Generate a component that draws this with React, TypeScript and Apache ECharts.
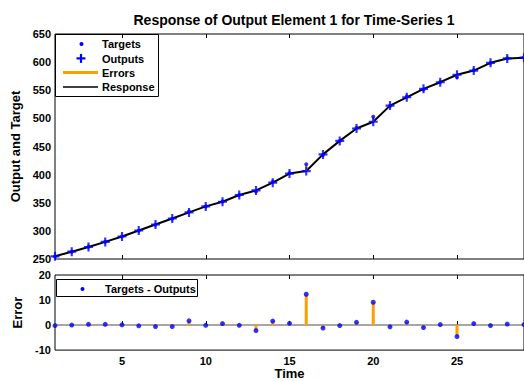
import React, { useEffect, useRef } from 'react';
import * as echarts from 'echarts';

const time = [1, 2, 3, 4, 5, 6, 7, 8, 9, 10, 11, 12, 13, 14, 15, 16, 17, 18, 19, 20, 21, 22, 23, 24, 25, 26, 27, 28, 29];
const outputs = [254.8, 263, 271.4, 280.4, 290, 300.7, 311.4, 322, 332.8, 343.5, 351.8, 363.8, 372, 385.7, 401.8, 406.3, 436, 460, 482, 494, 522.7, 537.5, 552.5, 564.3, 577.5, 585, 598.8, 606.6, 608];
const errors = [-0.2, 0, 0.3, 0.3, 0.1, -0.3, -0.6, -0.6, 1.7, -0.1, 0.6, -0.1, -2.2, 1.6, 0.7, 12.3, -1.2, -0.2, 1.1, 9.1, -0.7, 1.2, -1.0, 0.2, -4.6, 0.6, -0.2, 0.4, 0.2];
const xTickLabels = [5, 10, 15, 20, 25];
const outputAxis = [250, 650, 50];
const errorAxis = [-10, 20, 10];

const BLUE = '#0000ff';
const ORANGE = '#ff9e00';
const FONT = '"Liberation Sans", Arial, Helvetica, sans-serif';
const PLUS = 'path://M3.8,0H6.2V3.8H10V6.2H6.2V10H3.8V6.2H0V3.8H3.8Z';

export default function App() {
  const ref = useRef<HTMLDivElement>(null);
  useEffect(() => {
    document.body.style.margin = '0';
    const chart = echarts.init(ref.current!, null, { renderer: 'svg' });
    const targets = outputs.map((o, i) => +(o + errors[i]).toFixed(2));
    const gridLeft = 55;
    const gridWidth = 478;
    const xBase = {
      type: 'value' as const,
      min: 1,
      max: 29,
      splitLine: { show: false },
      axisLine: { show: false },
    };
    const tickInside = {
      show: true,
      inside: true,
      length: 4,
      customValues: xTickLabels,
      lineStyle: { color: '#000', width: 1 },
    };
    const labelStyle = { color: '#000', fontFamily: FONT, fontWeight: 'bold' as const, fontSize: 11 };
    const nameStyle = { color: '#000', fontFamily: FONT, fontWeight: 'bold' as const, fontSize: 13 };
    const option: any = {
      animation: false,
      backgroundColor: '#fff',
      title: {
        text: 'Response of Output Element 1 for Time-Series 1',
        left: 294,
        top: 13,
        textAlign: 'center',
        padding: 0,
        textStyle: { color: '#000', fontFamily: FONT, fontWeight: 'bold', fontSize: 14 },
      },
      grid: [
        { left: gridLeft, top: 34, width: gridWidth, height: 225, show: true, borderColor: '#000', borderWidth: 1, backgroundColor: '#fff' },
        { left: gridLeft, top: 275, width: gridWidth, height: 81, show: true, borderColor: '#000', borderWidth: 1, backgroundColor: '#fff' },
      ],
      xAxis: [
        { ...xBase, gridIndex: 0, position: 'bottom', axisTick: tickInside, axisLabel: { show: false } },
        { ...xBase, gridIndex: 0, position: 'top', axisTick: tickInside, axisLabel: { show: false } },
        {
          ...xBase, gridIndex: 1, position: 'bottom', axisTick: tickInside,
          axisLabel: { ...labelStyle, margin: 5, customValues: xTickLabels },
          name: 'Time', nameLocation: 'middle', nameGap: 14,
          nameTextStyle: nameStyle,
        },
        { ...xBase, gridIndex: 1, position: 'top', axisTick: tickInside, axisLabel: { show: false } },
      ],
      yAxis: [
        {
          type: 'value', gridIndex: 0, min: outputAxis[0], max: outputAxis[1], interval: outputAxis[2],
          splitLine: { show: false }, axisLine: { show: false }, axisTick: { show: false },
          axisLabel: { ...labelStyle, margin: 4 },
          name: 'Output and Target', nameLocation: 'middle', nameGap: 30,
          nameTextStyle: nameStyle,
        },
        {
          type: 'value', gridIndex: 1, min: errorAxis[0], max: errorAxis[1], interval: errorAxis[2],
          splitLine: { show: false }, axisLine: { show: false }, axisTick: { show: false },
          axisLabel: { ...labelStyle, margin: 4 },
          name: 'Error', nameLocation: 'middle', nameGap: 30,
          nameTextStyle: nameStyle,
        },
      ],
      series: [
        {
          name: 'Response', type: 'line', xAxisIndex: 0, yAxisIndex: 0,
          data: time.map((t, i) => [t, outputs[i]]),
          symbol: 'none', lineStyle: { color: '#000', width: 2 }, z: 2,
        },
        {
          name: 'Errors', type: 'custom', xAxisIndex: 0, yAxisIndex: 0,
          data: time.map((t, i) => [t, outputs[i], targets[i]]),
          encode: { x: 0, y: [1, 2] },
          renderItem: (params: any, api: any) => {
            const p0 = api.coord([api.value(0), api.value(1)]);
            const p1 = api.coord([api.value(0), api.value(2)]);
            return {
              type: 'line',
              shape: { x1: p0[0], y1: p0[1], x2: p1[0], y2: p1[1] },
              style: { stroke: ORANGE, lineWidth: 2 },
            };
          },
          z: 3,
        },
        {
          name: 'Targets', type: 'scatter', xAxisIndex: 0, yAxisIndex: 0,
          data: time.map((t, i) => [t, targets[i]]),
          symbol: 'circle', symbolSize: 4, itemStyle: { color: BLUE }, z: 4,
        },
        {
          name: 'Outputs', type: 'scatter', xAxisIndex: 0, yAxisIndex: 0,
          data: time.map((t, i) => [t, outputs[i]]),
          symbol: PLUS, symbolSize: 9, itemStyle: { color: BLUE }, z: 5,
        },
        {
          name: 'Zero', type: 'line', xAxisIndex: 2, yAxisIndex: 1,
          data: [[time[0], 0], [time[time.length - 1], 0]],
          symbol: 'none', lineStyle: { color: '#8a8a8a', width: 1.5 }, z: 2,
        },
        {
          name: 'Error bars', type: 'bar', xAxisIndex: 2, yAxisIndex: 1,
          data: time.map((t, i) => [t, errors[i]]),
          barWidth: 3, itemStyle: { color: ORANGE }, z: 3,
        },
        {
          name: 'Targets - Outputs', type: 'scatter', xAxisIndex: 2, yAxisIndex: 1,
          data: time.map((t, i) => [t, errors[i]]),
          symbol: 'circle', symbolSize: 5, itemStyle: { color: BLUE }, z: 4,
        },
      ],
      graphic: [
        {
          type: 'group', z: 100,
          children: [
            { type: 'rect', shape: { x: 55.5, y: 34.5, width: 103, height: 62 }, style: { fill: '#fff', stroke: '#000', lineWidth: 1 } },
            { type: 'circle', shape: { cx: 81.5, cy: 44, r: 2 }, style: { fill: BLUE } },
            { type: 'rect', shape: { x: 76.5, y: 57.3, width: 9, height: 2.2 }, style: { fill: BLUE } },
            { type: 'rect', shape: { x: 79.9, y: 53.9, width: 2.2, height: 9 }, style: { fill: BLUE } },
            { type: 'line', shape: { x1: 63, y1: 72.5, x2: 98, y2: 72.5 }, style: { stroke: ORANGE, lineWidth: 3 } },
            { type: 'line', shape: { x1: 63, y1: 87, x2: 98, y2: 87 }, style: { stroke: '#000', lineWidth: 1.5 } },
            { type: 'text', x: 102, y: 44, style: { text: 'Targets', fill: '#000', font: `bold 11px ${FONT}`, verticalAlign: 'middle' } },
            { type: 'text', x: 102, y: 58.5, style: { text: 'Outputs', fill: '#000', font: `bold 11px ${FONT}`, verticalAlign: 'middle' } },
            { type: 'text', x: 102, y: 72.5, style: { text: 'Errors', fill: '#000', font: `bold 11px ${FONT}`, verticalAlign: 'middle' } },
            { type: 'text', x: 102, y: 87, style: { text: 'Response', fill: '#000', font: `bold 11px ${FONT}`, verticalAlign: 'middle' } },
          ],
        },
        {
          type: 'group', z: 100,
          children: [
            { type: 'rect', shape: { x: 56.5, y: 279.5, width: 141, height: 17 }, style: { fill: '#fff', stroke: '#000', lineWidth: 1 } },
            { type: 'circle', shape: { cx: 82.5, cy: 289, r: 2 }, style: { fill: BLUE } },
            { type: 'text', x: 105, y: 288.5, style: { text: 'Targets - Outputs', fill: '#000', font: `bold 11px ${FONT}`, verticalAlign: 'middle' } },
          ],
        },
      ],
    };
    chart.setOption(option);
    return () => chart.dispose();
  }, []);
  return <div ref={ref} style={{ width: 524, height: 381 }} />;
}
